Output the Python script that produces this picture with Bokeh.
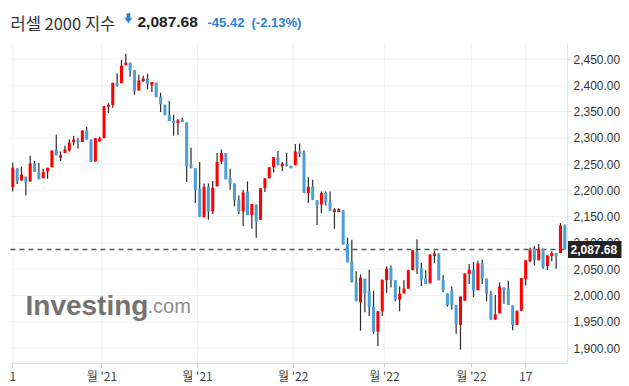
from bokeh.plotting import figure
from bokeh.models import (ColumnDataSource, FixedTicker, NumeralTickFormatter,
                          LinearAxis, Range1d)
from bokeh.embed import file_html
from bokeh.resources import INLINE
from bokeh.core.properties import value

# ---------------- data ----------------
title_name = "러셀 2000 지수"
last_price = 2087.68
change = -45.42
change_pct = -2.13

opens = [2206, 2241, 2219, 2226, 2217, 2251, 2234, 2223, 2236, 2244,
         2278, 2262, 2271, 2276, 2292, 2297, 2292, 2314, 2297, 2255,
         2293, 2299, 2359, 2362, 2405, 2404, 2438, 2443, 2428, 2390,
         2408, 2413, 2400, 2405, 2378, 2363, 2344, 2333, 2328, 2335,
         2329, 2249, 2242, 2203, 2149, 2207, 2160, 2208, 2255, 2271,
         2223, 2213, 2181, 2160, 2198, 2153, 2173, 2144, 2204, 2223,
         2244, 2263, 2246, 2251, 2247, 2248, 2274, 2271, 2195, 2207,
         2181, 2173, 2195, 2179, 2159, 2159, 2162, 2098, 2065, 2025,
         1987, 2032, 2008, 1979, 1931, 1970, 2029, 2053, 2029, 1992,
         2004, 2013, 2048, 2084, 2053, 2032, 2023, 2075, 2080, 2030,
         2004, 2009, 1982, 1944, 1990, 2041, 2049, 2010, 2061, 2032,
         2002, 1954, 1966, 2015, 2013, 1981, 1944, 1971, 2031, 2065,
         2089, 2067, 2089, 2056, 2075, 2081, 2081, 2133.1]
highs = [2253, 2242, 2245, 2226, 2266, 2256, 2252, 2241, 2243, 2276,
         2306, 2274, 2285, 2297, 2304, 2300, 2314, 2321, 2297, 2299,
         2302, 2360, 2366, 2405, 2423, 2448, 2460, 2443, 2429, 2420,
         2418, 2422, 2406, 2405, 2386, 2363, 2370, 2344, 2336, 2338,
         2329, 2281, 2242, 2254, 2213, 2213, 2218, 2271, 2278, 2271,
         2241, 2213, 2190, 2201, 2217, 2174, 2173, 2204, 2223, 2244,
         2263, 2275, 2254, 2271, 2247, 2288, 2289, 2276, 2225, 2220,
         2181, 2198, 2198, 2198, 2166, 2166, 2162, 2110, 2106, 2046,
         2040, 2032, 2049, 2009, 1970, 2030, 2055, 2057, 2029, 2017,
         2029, 2049, 2086, 2107, 2062, 2048, 2079, 2085, 2080, 2039,
         2004, 2017, 1982, 1998, 2042, 2060, 2064, 2066, 2068, 2032,
         2009, 2001, 2025, 2015, 2028, 1981, 1971, 2033, 2067, 2091,
         2094, 2098, 2089, 2076, 2084, 2081, 2138, 2135.2]
lows = [2198, 2212, 2219, 2190, 2217, 2235, 2221, 2223, 2222, 2244,
        2267, 2256, 2271, 2274, 2286, 2279, 2292, 2297, 2254, 2255,
        2293, 2299, 2347, 2357, 2397, 2404, 2438, 2416, 2382, 2390,
        2406, 2392, 2387, 2377, 2349, 2343, 2332, 2304, 2305, 2330,
        2216, 2242, 2176, 2150, 2149, 2144, 2155, 2208, 2250, 2221,
        2201, 2170, 2155, 2132, 2153, 2127, 2110, 2144, 2197, 2223,
        2234, 2248, 2237, 2246, 2242, 2248, 2263, 2195, 2176, 2182,
        2134, 2157, 2171, 2161, 2127, 2159, 2097, 2063, 2025, 1989,
        1933, 1968, 1961, 1927, 1904, 1961, 2005, 2015, 1989, 1970,
        2004, 2013, 2048, 2041, 2018, 2022, 2023, 2062, 2029, 2006,
        1979, 1973, 1927, 1897, 1990, 2022, 1997, 2010, 2022, 1989,
        1954, 1954, 1966, 1984, 1982, 1934, 1944, 1971, 2019, 2063,
        2057, 2067, 2051, 2048, 2065, 2051, 2081, 2087.68]
closes = [2243, 2218, 2230, 2215, 2251, 2235, 2221, 2235, 2243, 2276,
          2267, 2267, 2278, 2291, 2297, 2292, 2314, 2297, 2254, 2299,
          2299, 2360, 2363, 2405, 2399, 2437, 2443, 2427, 2390, 2409,
          2413, 2402, 2406, 2377, 2364, 2343, 2332, 2328, 2333, 2330,
          2246, 2242, 2200, 2150, 2207, 2160, 2205, 2254, 2271, 2221,
          2212, 2181, 2160, 2196, 2153, 2174, 2141, 2204, 2223, 2244,
          2263, 2248, 2251, 2246, 2242, 2274, 2269, 2195, 2207, 2182,
          2172, 2195, 2178, 2161, 2164, 2164, 2097, 2063, 2025, 1989,
          2034, 2004, 1978, 1931, 1970, 2030, 2051, 2030, 1992, 2003,
          2013, 2048, 2086, 2052, 2030, 2022, 2078, 2080, 2029, 2009,
          1982, 1982, 1945, 1998, 2042, 2049, 2009, 2061, 2032, 2003,
          1954, 1964, 2017, 2010, 1982, 1944, 1971, 2033, 2067, 2087,
          2067, 2089, 2054, 2076, 2081, 2075, 2133.1, 2087.68]

x_tick_pos = [0, 20.5, 42.5, 64.5, 85.5, 105.5, 118]
x_tick_labels = ["1", "월 '21", "월 '21", "월 '22", "월 '22", "월 '22", "17"]
y_ticks = [1900, 1950, 2000, 2050, 2100, 2150, 2200, 2250, 2300, 2350, 2400, 2450]

# ---------------- styling / geometry ----------------
UP = "#ff0000"
DOWN = "#4a9fdc"
BLUE_TXT = "#2b80d8"
LATIN = "Liberation Sans"
KR = "Noto Sans CJK KR"

W, H = 629, 386
STEP = 4.3465            # px per session
PPU = 289 / 550          # px per index point
x_start = -12.3 / STEP
x_end = x_start + W / STEP
y_top = 2450 + 58.5 / PPU
y_bot = y_top - H / PPU


def fx(px):
    return x_start + px / STEP


def fy(py):
    return y_top - py / PPU


n = len(opens)
idx = list(range(n))
colors = [UP if c >= o else DOWN for o, c in zip(opens, closes)]
src = ColumnDataSource(dict(
    x=idx, o=opens, h=highs, l=lows, c=closes,
    top=[max(o, c) for o, c in zip(opens, closes)],
    bot=[min(o, c) for o, c in zip(opens, closes)],
    col=colors))

p = figure(width=W, height=H, x_range=Range1d(x_start, x_end),
           y_range=Range1d(y_bot, y_top), output_backend="svg",
           toolbar_location=None, title=None,
           x_axis_location=None, y_axis_location=None,
           min_border_left=0, min_border_top=0, min_border_bottom=0,
           min_border_right=0)
p.outline_line_color = None
p.background_fill_color = "white"
p.border_fill_color = "white"
p.xgrid.visible = False
p.ygrid.visible = False

# horizontal and vertical grid lines
ny = len(y_ticks)
p.segment(x0=[fx(10)] * ny, x1=[fx(567)] * ny, y0=y_ticks, y1=y_ticks,
          line_color="#f1f1f1", line_width=1)
nt = len(x_tick_pos)
p.segment(x0=x_tick_pos, x1=x_tick_pos, y0=[fy(363)] * nt, y1=[fy(43)] * nt,
          line_color="#f1f1f1", line_width=1)

# price axis (right side, fixed at the plot's right edge)
yax = LinearAxis(ticker=FixedTicker(ticks=y_ticks),
                 formatter=NumeralTickFormatter(format="0,0.00"),
                 fixed_location=fx(567), bounds=(fy(363), fy(43)))
yax.major_label_text_font = LATIN
yax.major_label_text_font_size = "12px"
yax.major_label_text_color = "#333333"
yax.axis_line_color = "#e2e2e2"
yax.major_tick_line_color = "#e2e2e2"
yax.major_tick_out = 4
yax.major_tick_in = 0
yax.minor_tick_out = 0
yax.minor_tick_in = 0
yax.major_label_standoff = 2
p.add_layout(yax, "right")

# time axis (bottom)
xax = LinearAxis(ticker=FixedTicker(ticks=x_tick_pos),
                 major_label_overrides={t: lab for t, lab in zip(x_tick_pos, x_tick_labels)},
                 fixed_location=fy(362.8), bounds=(fx(11), fx(567)))
xax.major_label_text_font = KR
xax.major_label_text_font_size = "12px"
xax.major_label_text_color = "#444444"
xax.axis_line_color = "#dddddd"
xax.major_tick_line_color = "#cccccc"
xax.major_tick_out = 4
xax.major_tick_in = 0
xax.minor_tick_out = 0
xax.minor_tick_in = 0
xax.major_label_standoff = 0
p.add_layout(xax, "below")

# watermark
p.text(x=[fx(25)], y=[fy(305)], text=["Investing"], text_font=value(LATIN),
       text_font_size="28px", text_font_style="bold", text_color="#737373",
       text_align="left", text_baseline="alphabetic")
p.text(x=[fx(147)], y=[fy(305)], text=[".com"], text_font=value(LATIN),
       text_font_size="20px", text_color="#8c8c8c",
       text_align="left", text_baseline="alphabetic")

# last price dashed line
p.segment(x0=[fx(10)], x1=[fx(567)], y0=[last_price], y1=[last_price],
          line_color="#555555", line_dash="5 4", line_width=1.5)

# candles
p.segment(x0="x", x1="x", y0="l", y1="h", source=src, line_color="#2b2b2b",
          line_width=1.2)
p.vbar(x="x", width=0.7, top="top", bottom="bot", source=src,
       fill_color="col", line_color=None)

# title
p.text(x=[fx(10)], y=[fy(22)], text=[title_name], text_font=value(KR),
       text_font_size="16.5px", text_color="#333333", text_align="left",
       text_baseline="alphabetic")
p.quad(left=[fx(126.1)], right=[fx(129.7)], top=[fy(12.7)], bottom=[fy(17.6)],
       fill_color=BLUE_TXT, line_color=None)
p.patch(x=[fx(123.9), fx(131.9), fx(127.9)], y=[fy(17.3), fy(17.3), fy(22.7)],
        fill_color=BLUE_TXT, line_color=None)
p.text(x=[fx(137)], y=[fy(21.7)], text=[f"{last_price:,.2f}"], text_font=value(LATIN),
       text_font_size="15.5px", text_font_style="bold", text_color="#222222",
       text_align="left", text_baseline="alphabetic")
p.text(x=[fx(207)], y=[fy(21.7)], text=[f"{change:.2f}"], text_font=value(LATIN),
       text_font_size="13px", text_font_style="bold", text_color=BLUE_TXT,
       text_align="left", text_baseline="alphabetic")
p.text(x=[fx(251)], y=[fy(21.7)], text=[f"({change_pct:.2f}%)"], text_font=value(LATIN),
       text_font_size="13px", text_font_style="bold", text_color=BLUE_TXT,
       text_align="left", text_baseline="alphabetic")

# price tag on the axis
half = 8.5 / PPU
p.quad(left=[fx(567.5)], right=[fx(621)], top=[last_price + half],
       bottom=[last_price - half], fill_color="#222222", line_color=None,
       level="overlay")
p.text(x=[fx(570)], y=[last_price], text=[f"{last_price:,.2f}"], text_font=value(LATIN),
       text_font_size="12px", text_font_style="bold", text_color="white",
       text_align="left", text_baseline="middle", level="overlay")

open("out.html", "w").write(file_html(p, INLINE))
